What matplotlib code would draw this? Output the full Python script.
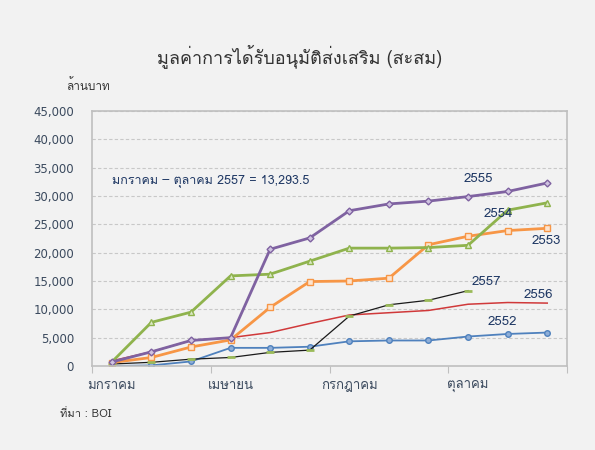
import numpy as np
import matplotlib
matplotlib.use("Agg")
import matplotlib.pyplot as plt
from matplotlib import font_manager
from matplotlib.ft2font import FT2Font

# pick a font that can draw Thai, fall back to DejaVu Sans
thai_font = None
for path in sorted(font_manager.findSystemFonts()):
    try:
        cmap = FT2Font(path).get_charmap()
    except Exception:
        continue
    if ord('ม') in cmap and ord('ค') in cmap:
        thai_font = font_manager.FontProperties(fname=path).get_name()
        break
families = [thai_font, 'DejaVu Sans'] if thai_font else ['DejaVu Sans']
plt.rcParams['font.family'] = families

months = np.arange(12)
tick_pos = [0, 3, 6, 9]
tick_labels = ['มกราคม', 'เมษายน', 'กรกฎาคม', 'ตุลาคม']

y2552 = [0, 100, 800, 3200, 3200, 3400, 4350, 4500, 4500, 5200, 5650, 5900]
y2553 = [600, 1500, 3350, 4600, 10350, 14900, 15000, 15500, 21400, 22900, 23900, 24300]
y2554 = [700, 7700, 9500, 15900, 16200, 18500, 20800, 20800, 20900, 21300, 27500, 28800]
y2555 = [700, 2500, 4500, 5000, 20600, 22600, 27400, 28600, 29100, 29900, 30800, 32300]
y2556 = [900, 2500, 4500, 5000, 5900, 7500, 9000, 9400, 9800, 10900, 11200, 11100]
y2557 = [350, 650, 1200, 1500, 2400, 2800, 8800, 10800, 11600, 13293.5]

bg = '#f2f2f2'
fig = plt.figure(figsize=(5.95, 4.5), dpi=100, facecolor=bg)
ax = fig.add_axes([0.1546, 0.1867, 0.7984, 0.5666], facecolor=bg)

ax.plot(months, y2552, color='#4f81bd', lw=1.3, marker='o', ms=4,
        mfc='#8eaed8', mec='#4f81bd', mew=1)
ax.plot(months, y2556, color='#d0393a', lw=1.1)
ax.plot(months[:len(y2557)], y2557, color='#1a1a1a', lw=0.9, marker='_',
        ms=6, mec='#9bbb59', mew=2)
ax.plot(months, y2553, color='#f79646', lw=2, marker='s', ms=4,
        mfc='#fde4cf', mec='#f79646', mew=1)
ax.plot(months, y2554, color='#8fb34d', lw=2, marker='^', ms=4.5,
        mfc='#dbe8c4', mec='#8fb34d', mew=1)
ax.plot(months, y2555, color='#7f62a1', lw=2, marker='D', ms=3.5,
        mfc='#cfc3e0', mec='#7f62a1', mew=1)

ax.set_xlim(-0.5, 11.5)
ax.set_ylim(0, 45000)
ax.set_yticks(np.arange(0, 45001, 5000))
ax.set_yticklabels([f'{v:,}' for v in range(0, 45001, 5000)], fontsize=8.5,
                   color='#3b4a5e', family='DejaVu Sans')
ax.tick_params(axis='y', length=0, pad=13)
ax.set_xticks([-0.5, 2.5, 5.5, 8.5, 11.5])
ax.set_xticklabels([])
ax.tick_params(axis='x', which='major', length=5, color='#bfbfbf')
ax.set_xticks(tick_pos, minor=True)
ax.set_xticklabels(tick_labels, minor=True, fontsize=9.5, color='#3b4a5e')
ax.tick_params(axis='x', which='minor', length=0, pad=10)

ax.grid(axis='y', linestyle=(0, (3, 2)), color='#c8c8c8', lw=0.8)
for side in ['top', 'right', 'left', 'bottom']:
    ax.spines[side].set_color('#bfbfbf')
    ax.spines[side].set_linewidth(1.2)

lab = dict(fontsize=9.5, color='#1f3864')
ax.text(8.9, 32400, '2555', **lab)
ax.text(9.4, 26300, '2554', **lab)
ax.text(10.6, 21500, '2553', **lab)
ax.text(9.1, 14300, '2557', **lab)
ax.text(10.4, 12000, '2556', **lab)
ax.text(9.5, 7200, '2552', **lab)
ax.text(0.0, 32200, 'มกราคม – ตุลาคม 2557 = 13,293.5', fontsize=9, color='#1f3864')

fig.text(0.504, 0.876, 'มูลค่าการได้รับอนุมัติส่งเสริม (สะสม)', ha='center',
         va='center', fontsize=13, color='#333333')
fig.text(0.111, 0.811, 'ล้านบาท', va='center', fontsize=8.5, color='#333333')
fig.text(0.101, 0.082, 'ที่มา : BOI', va='center', fontsize=8, color='#333333')

fig.savefig('out.png', dpi=100, facecolor=bg)
